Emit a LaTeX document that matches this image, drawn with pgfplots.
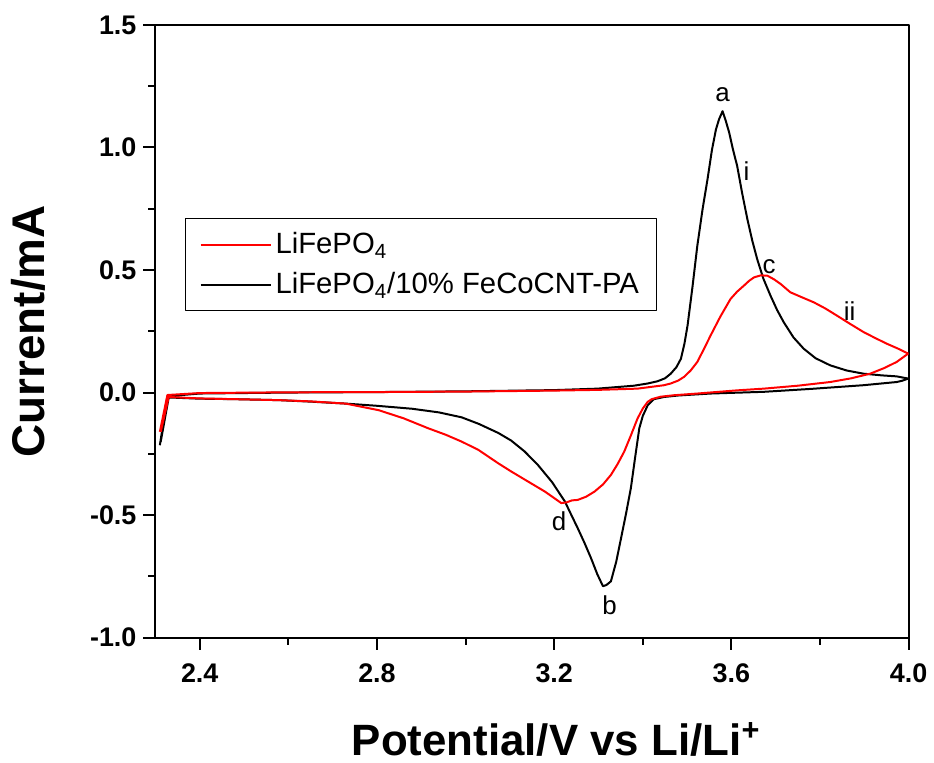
\documentclass[border=0pt]{standalone}
\usepackage{fontspec}
\setmainfont{Liberation Sans}
\usepackage{pgfplots}
\pgfplotsset{compat=1.18}
\begin{document}
\begin{tikzpicture}
\begin{axis}[
  name=ax,
  scale only axis, width=378pt, height=307.5pt,
  xmin=2.3, xmax=4.0, ymin=-1.0, ymax=1.5,
  xtick={2.4,2.8,3.2,3.6,4.0}, xticklabels={2.4,2.8,3.2,3.6,4.0},
  ytick={-1,-0.5,0,0.5,1,1.5}, yticklabels={-1.0,-0.5,0.0,0.5,1.0,1.5},
  minor x tick num=1, minor y tick num=1,
  xtick pos=bottom, ytick pos=left, tick align=outside,
  major tick length=6pt, minor tick length=3.5pt,
  axis line style={line width=1pt},
  every tick/.style={black, line width=1pt},
  tick label style={font=\fontsize{13.5}{15}\selectfont\bfseries},
  xticklabel style={yshift=-3.5pt},
  xlabel={Potential/V vs Li/Li\textsuperscript{+}},
  ylabel={Current/mA},
  every axis x label/.style={at={(axis description cs:0.532,0)}, anchor=base, yshift=-59pt, font=\fontsize{22}{26}\selectfont\bfseries},
  every axis y label/.style={at={(axis description cs:-0.169,0.5)}, anchor=center, rotate=90, font=\fontsize{23}{27}\selectfont\bfseries},
  legend style={at={(axis description cs:0.0397,0.6846)}, anchor=north west, draw=black, line width=0.5pt, font=\fontsize{14.7}{17}\selectfont, row sep=4pt, inner xsep=7pt, inner ysep=5pt},
  legend cell align=left,
  legend image code/.code={\draw[#1, line width=1pt] (0pt,0pt) -- (31pt,0pt); \path (0pt,0pt) -- (35pt,0pt);},
  line join=round,
]
% LiFePO4/10% FeCoCNT-PA (black)
\addplot[black, line width=1pt, forget plot] coordinates {
(2.310,-0.215) (2.327,-0.015) (2.400,-0.004) (2.600,0.000) (2.800,0.002) (3.000,0.005) (3.200,0.010)
(3.298,0.016) (3.380,0.028) (3.411,0.037) (3.433,0.046) (3.450,0.058) (3.463,0.077) (3.476,0.104)
(3.486,0.138) (3.494,0.200) (3.501,0.274) (3.512,0.430) (3.523,0.599) (3.535,0.750) (3.546,0.870)
(3.556,0.990) (3.565,1.073) (3.572,1.115) (3.580,1.148) (3.587,1.110) (3.595,1.060) (3.603,0.995)
(3.613,0.924) (3.624,0.815) (3.636,0.707) (3.647,0.620) (3.658,0.545) (3.672,0.465) (3.688,0.396)
(3.703,0.337) (3.718,0.287) (3.740,0.225) (3.763,0.179) (3.790,0.140) (3.823,0.111) (3.860,0.090)
(3.898,0.077) (3.940,0.070) (3.973,0.066) (3.999,0.057) (3.985,0.048) (3.973,0.043) (3.898,0.030)
(3.780,0.015) (3.673,0.003) (3.553,-0.004) (3.480,-0.012) (3.448,-0.018) (3.425,-0.027) (3.411,-0.052)
(3.400,-0.095) (3.392,-0.146) (3.383,-0.260) (3.373,-0.390) (3.362,-0.495) (3.351,-0.593) (3.340,-0.690)
(3.328,-0.770) (3.318,-0.785) (3.310,-0.790) (3.297,-0.740) (3.283,-0.675) (3.268,-0.612) (3.253,-0.553)
(3.238,-0.497) (3.224,-0.444) (3.195,-0.365) (3.163,-0.295) (3.133,-0.240) (3.103,-0.196) (3.074,-0.165)
(3.030,-0.128) (2.991,-0.101) (2.940,-0.081) (2.879,-0.066) (2.800,-0.054) (2.729,-0.045) (2.650,-0.037)
(2.579,-0.031) (2.480,-0.027) (2.400,-0.025) (2.330,-0.020) (2.312,-0.200)
};
% LiFePO4 (red)
\addplot[red, line width=1pt] coordinates {
(2.310,-0.160) (2.327,-0.010) (2.400,-0.002) (2.600,0.001) (2.800,0.002) (3.000,0.004) (3.200,0.008)
(3.300,0.011) (3.388,0.016) (3.448,0.030) (3.463,0.037) (3.480,0.049) (3.493,0.064) (3.508,0.090)
(3.523,0.125) (3.538,0.178) (3.553,0.233) (3.575,0.310) (3.598,0.382) (3.613,0.412) (3.628,0.436)
(3.640,0.456) (3.651,0.470) (3.666,0.478) (3.681,0.477) (3.696,0.462) (3.711,0.443) (3.733,0.409)
(3.760,0.388) (3.786,0.368) (3.812,0.343) (3.838,0.314) (3.868,0.280) (3.898,0.247) (3.925,0.222)
(3.951,0.199) (3.975,0.180) (3.999,0.159) (3.973,0.125) (3.945,0.100) (3.913,0.077) (3.870,0.058)
(3.823,0.043) (3.750,0.028) (3.673,0.016) (3.613,0.009) (3.523,-0.004) (3.470,-0.011) (3.440,-0.017)
(3.420,-0.027) (3.411,-0.038) (3.400,-0.065) (3.388,-0.106) (3.373,-0.175) (3.358,-0.241) (3.343,-0.292)
(3.328,-0.336) (3.310,-0.375) (3.291,-0.404) (3.272,-0.425) (3.253,-0.438) (3.240,-0.440) (3.228,-0.448)
(3.216,-0.451) (3.198,-0.428) (3.179,-0.404) (3.140,-0.362) (3.103,-0.322) (3.074,-0.289) (3.029,-0.234)
(2.991,-0.200) (2.955,-0.172) (2.916,-0.146) (2.860,-0.105) (2.804,-0.072) (2.729,-0.045) (2.650,-0.036)
(2.579,-0.031) (2.480,-0.027) (2.400,-0.024) (2.330,-0.018) (2.312,-0.160)
};
\addlegendentry{LiFePO\textsubscript{4}}
\addlegendimage{black, line width=1pt}
\addlegendentry{LiFePO\textsubscript{4}/10\% FeCoCNT-PA}
\node[font=\fontsize{13}{15}\selectfont] at (axis cs:3.580,1.215) {a};
\node[font=\fontsize{13}{15}\selectfont] at (axis cs:3.634,0.902) {i};
\node[font=\fontsize{13}{15}\selectfont] at (axis cs:3.685,0.512) {c};
\node[font=\fontsize{13}{15}\selectfont] at (axis cs:3.867,0.333) {ii};
\node[font=\fontsize{13}{15}\selectfont] at (axis cs:3.211,-0.524) {d};
\node[font=\fontsize{13}{15}\selectfont] at (axis cs:3.325,-0.866) {b};
\end{axis}
\path[use as bounding box] ([shift={(-78pt,-62pt)}]ax.south west) rectangle ([shift={(11pt,12.5pt)}]ax.north east);
\end{tikzpicture}
\end{document}
